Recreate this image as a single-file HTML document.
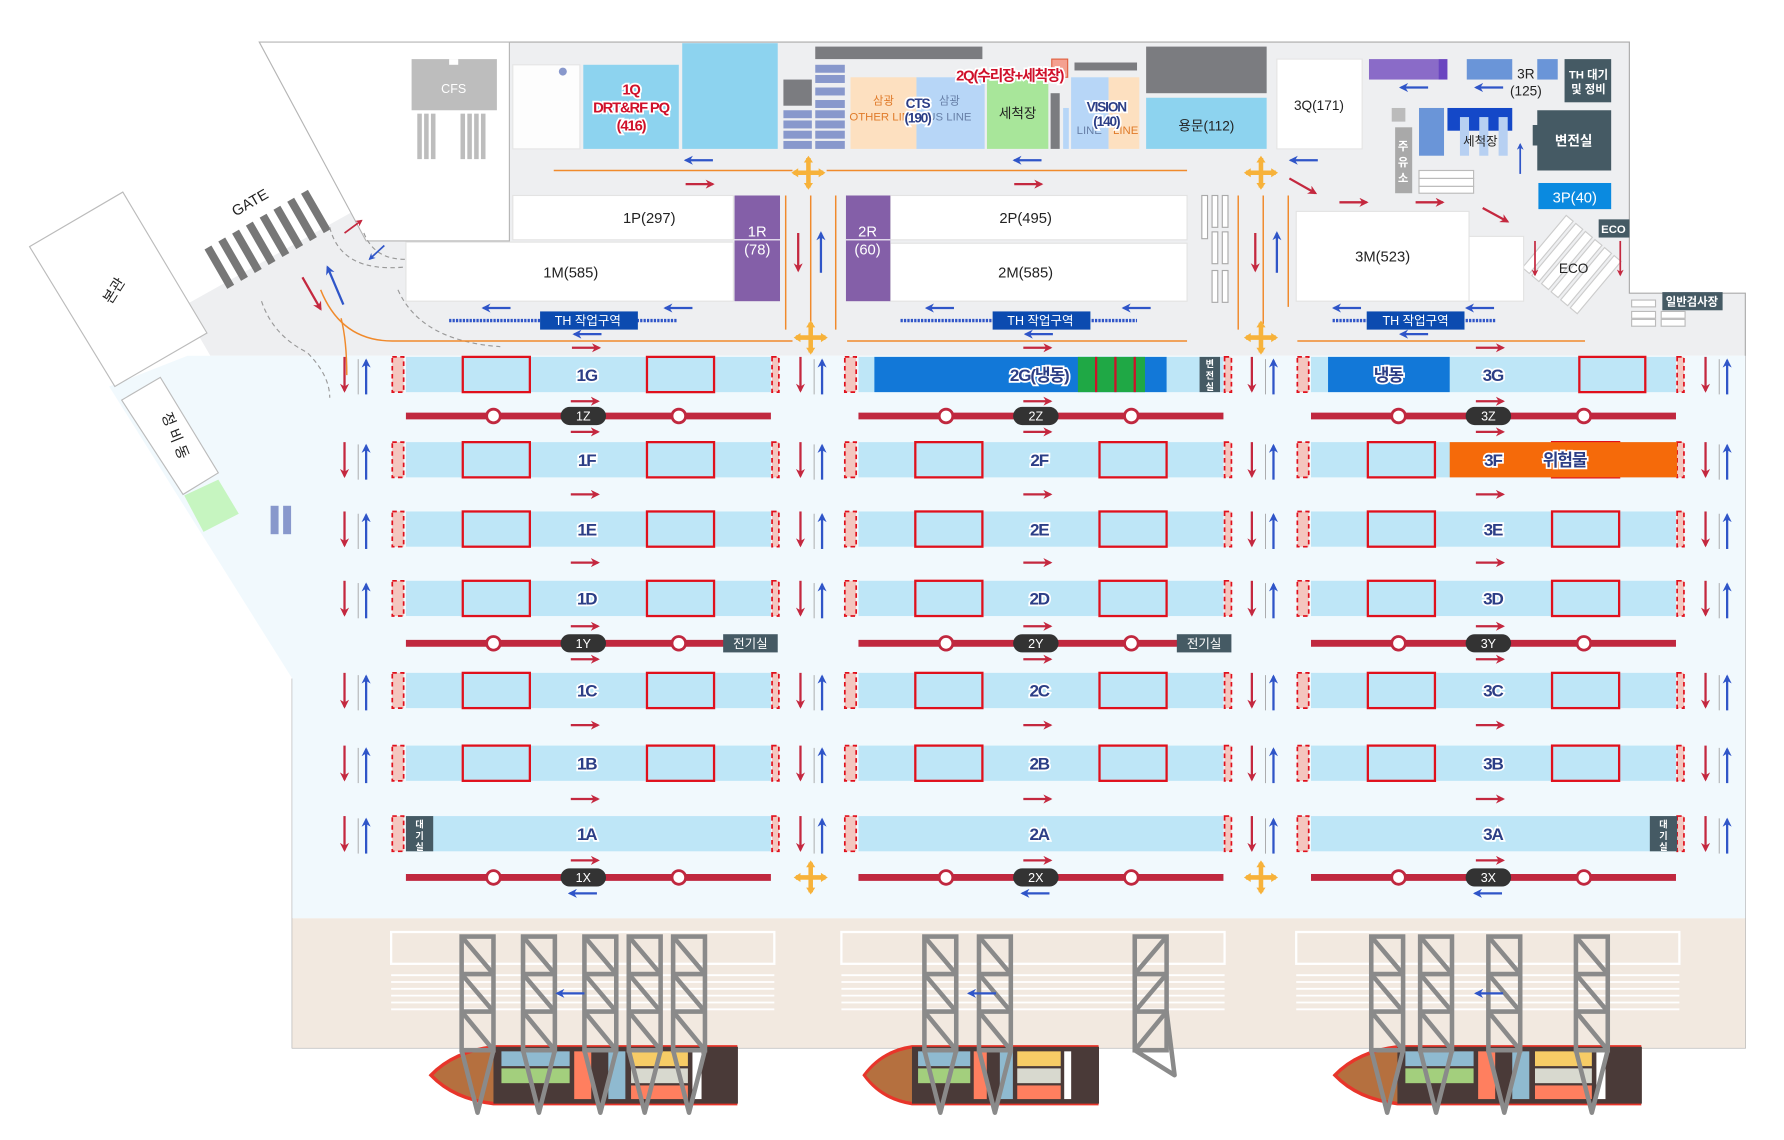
<!DOCTYPE html>
<html><head><meta charset="utf-8"><style>
html,body{margin:0;padding:0;background:#fff;}
svg{display:block;}
text{font-family:"Liberation Sans","Noto Sans CJK KR",sans-serif;}
.lb{font-size:15px;font-weight:bold;fill:#2c3e86;stroke:#fff;stroke-width:3px;paint-order:stroke;text-anchor:middle;letter-spacing:-1px;}
.t{font-size:13px;fill:#222;text-anchor:middle;}
.w{font-size:11px;fill:#fff;text-anchor:middle;font-weight:bold;}
</style></head><body>
<svg width="1784" height="1140" viewBox="0 0 1569 1003" preserveAspectRatio="none" xmlns="http://www.w3.org/2000/svg">
<defs>
<marker id="mr" viewBox="0 0 10 10" refX="8" refY="5" markerWidth="4" markerHeight="4" orient="auto"><path d="M0,0L10,5L0,10L3,5z" fill="#c4283f"/></marker>
<marker id="mb" viewBox="0 0 10 10" refX="8" refY="5" markerWidth="4" markerHeight="4" orient="auto"><path d="M0,0L10,5L0,10L3,5z" fill="#2f55c8"/></marker>
<g id="vp"><line x1="0" y1="0" x2="0" y2="30" stroke="#c4283f" stroke-width="2" marker-end="url(#mr)"/><line x1="19" y1="33" x2="19" y2="3" stroke="#2f55c8" stroke-width="2" marker-end="url(#mb)"/><line x1="12" y1="2" x2="12" y2="33" stroke="#999" stroke-width="0.7"/></g>
<g id="band"><rect x="0" y="0" width="321" height="31" fill="#bee6f7"/><rect x="-12" y="0" width="10" height="31" fill="#f4c6bf" stroke="#e0101c" stroke-width="1.5" stroke-dasharray="4,3"/><rect x="322" y="0" width="6" height="31" fill="#f4c6bf" stroke="#e0101c" stroke-width="1.5" stroke-dasharray="4,3"/></g>
<g id="rr"><rect x="50" y="0" width="59" height="31" fill="none" stroke="#e0101c" stroke-width="2"/><rect x="212" y="0" width="59" height="31" fill="none" stroke="#e0101c" stroke-width="2"/></g>
<g id="rail"><line x1="0" y1="0" x2="321" y2="0" stroke="#c0283f" stroke-width="6"/><circle cx="77" cy="0" r="6" fill="#fff" stroke="#c0283f" stroke-width="2.5"/><circle cx="240" cy="0" r="6" fill="#fff" stroke="#c0283f" stroke-width="2.5"/><rect x="136" y="-8" width="40" height="16" rx="8" fill="#333"/></g>
<g id="ra"><line x1="0" y1="0" x2="24" y2="0" stroke="#c4283f" stroke-width="2" marker-end="url(#mr)"/></g>
<g id="ba"><line x1="24" y1="0" x2="0" y2="0" stroke="#2f55c8" stroke-width="2" marker-end="url(#mb)"/></g>
<g id="cr"><rect x="0" y="0" width="28" height="100" fill="none" stroke="#8a8a8a" stroke-width="4"/><line x1="0" y1="33" x2="28" y2="33" stroke="#8a8a8a" stroke-width="4"/><line x1="0" y1="66" x2="28" y2="66" stroke="#8a8a8a" stroke-width="4"/><path d="M0,0L28,33M0,33L28,66M0,66L28,100M0,100L14,155L28,100" fill="none" stroke="#8a8a8a" stroke-width="4" stroke-linejoin="round"/></g>
<g id="xx"><path d="M0,-13L0,13M-13,0L13,0" stroke="#f7b23a" stroke-width="4"/><path d="M-4,-9L0,-15L4,-9zM-4,9L0,15L4,9zM-9,-4L-15,0L-9,4zM9,-4L15,0L9,4z" fill="#f7b23a"/></g>
<g id="ship"><path d="M0,25 Q20,4 55,0 L268,0 L268,50 L55,50 Q20,46 0,25z" fill="#b5703f" stroke="#e8352a" stroke-width="3"/><rect x="55" y="0" width="215" height="50" fill="#4a3a38"/><rect x="62" y="4" width="60" height="13" fill="#8fbad0"/><rect x="62" y="19" width="60" height="13" fill="#a3cf7d"/><rect x="126" y="4" width="15" height="42" fill="#ff7f5f"/><rect x="156" y="4" width="15" height="42" fill="#8fbad0"/><rect x="176" y="4" width="50" height="13" fill="#f7cc66"/><rect x="176" y="19" width="50" height="13" fill="#d8d9cf"/><rect x="176" y="34" width="50" height="12" fill="#ff7f5f"/><rect x="230" y="4" width="8" height="42" fill="#fff"/></g>
</defs>

<polygon points="448,37 1433,37 1433,258 1535,258 1535,313 185,313 160,270 316,183 322,212 448,212" fill="#eeeff1"/>
<polyline points="228,37 1433,37 1433,258 1535,258 1535,922 257,922 257,597" fill="none" stroke="#aaa" stroke-width="1"/>
<polygon points="165,313 1535,313 1535,808 257,808 257,597 96,340" fill="#f1f9fd"/>
<rect x="257" y="808" width="1278" height="114" fill="#f2e9e0"/>
<polygon points="228,37 448,37 448,212 322,212" fill="#fff" stroke="#b5b5b5" stroke-width="1"/>
<polygon points="26,217 108,169 182,293 101,340" fill="#fff" stroke="#bbb"/>
<text x="104" y="258" class="t" transform="rotate(-58 104 258)">본관</text>
<polygon points="107,352 141,332 192,416 161,435" fill="#fff" stroke="#bbb"/>
<text x="150" y="385" class="t" transform="rotate(68 150 385)">정 비 동</text>
<polygon points="162,436 192,422 210,452 179,468" fill="#c6f5c0"/>
<rect x="238" y="445" width="7" height="25" fill="#8898cc"/><rect x="249" y="445" width="7" height="25" fill="#8898cc"/>
<g fill="#777">
<g transform="rotate(-30 235 205)"><rect x="180" y="190" width="7" height="40"/><rect x="194" y="190" width="7" height="40"/><rect x="208" y="190" width="7" height="40"/><rect x="222" y="190" width="7" height="40"/><rect x="236" y="190" width="7" height="40"/><rect x="250" y="190" width="7" height="40"/><rect x="264" y="190" width="7" height="40"/><rect x="278" y="190" width="7" height="40"/></g></g>
<text x="222" y="182" class="t" transform="rotate(-30 222 182)">GATE</text>
<path d="M290,200 Q300,240 355,235" fill="none" stroke="#999" stroke-dasharray="4,3"/>
<path d="M320,205 Q330,230 360,228" fill="none" stroke="#999" stroke-dasharray="4,3"/>
<path d="M230,265 Q240,295 270,310 Q290,330 290,350" fill="none" stroke="#999" stroke-dasharray="4,3"/>
<path d="M350,255 Q370,300 440,305" fill="none" stroke="#999" stroke-dasharray="4,3"/>
<path d="M282,255 Q300,300 345,300 L697,300" fill="none" stroke="#f08a2c" stroke-width="1.3"/>
<path d="M300,280 Q305,300 305,330" fill="none" stroke="#f08a2c" stroke-width="1.3"/>
<line x1="303" y1="205" x2="318" y2="194" stroke="#c4283f" stroke-width="1.5" marker-end="url(#mr)"/>
<line x1="338" y1="216" x2="325" y2="228" stroke="#2f55c8" stroke-width="1.5" marker-end="url(#mb)"/>
<line x1="302" y1="268" x2="288" y2="235" stroke="#2f55c8" stroke-width="2" marker-end="url(#mb)"/>
<line x1="266" y1="244" x2="282" y2="272" stroke="#c4283f" stroke-width="2" marker-end="url(#mr)"/>

<rect x="362" y="52" width="75" height="45" fill="#bdbdbd"/><rect x="395" y="52" width="8" height="5" fill="#fff"/>
<text x="399" y="82" class="w" style="font-weight:normal">CFS</text>
<g fill="#bdbdbd"><rect x="367" y="100" width="4" height="40"/><rect x="373" y="100" width="4" height="40"/><rect x="379" y="100" width="4" height="40"/><rect x="405" y="100" width="4" height="40"/><rect x="411" y="100" width="4" height="40"/><rect x="417" y="100" width="4" height="40"/><rect x="423" y="100" width="4" height="40"/></g>

<rect x="451" y="57" width="59" height="74" fill="#fdfdfd" stroke="#e5e5e5"/><circle cx="495" cy="63" r="3.5" fill="#8898cc"/>
<rect x="513" y="57" width="84" height="74" fill="#8dd3ef"/>
<text x="555" y="83" class="lb" style="fill:#d0102a;font-size:13px">1Q</text>
<text x="555" y="99" class="lb" style="fill:#d0102a;font-size:13px">DRT&amp;RF PQ</text>
<text x="555" y="115" class="lb" style="fill:#d0102a;font-size:13px">(416)</text>
<rect x="600" y="38" width="84" height="93" fill="#8dd3ef"/>
<rect x="689" y="70" width="25" height="23" fill="#7b7c80"/>
<g fill="#8898cc"><rect x="689" y="97" width="25" height="7"/><rect x="689" y="106" width="25" height="7"/><rect x="689" y="115" width="25" height="7"/><rect x="689" y="124" width="25" height="7"/>
<rect x="717" y="57" width="26" height="7"/><rect x="717" y="66" width="26" height="7"/><rect x="717" y="77" width="26" height="7"/><rect x="717" y="88" width="26" height="7"/><rect x="717" y="97" width="26" height="7"/><rect x="717" y="106" width="26" height="7"/><rect x="717" y="115" width="26" height="7"/><rect x="717" y="124" width="26" height="7"/></g>
<rect x="717" y="41" width="147" height="11" fill="#7b7c80"/>
<rect x="748" y="68" width="58" height="63" fill="#fde0c0"/>
<text x="777" y="92" class="t" style="fill:#e07b2a;font-size:10px">삼광</text><text x="777" y="106" class="t" style="fill:#e07b2a;font-size:10px">OTHER LINE</text>
<rect x="806" y="68" width="60" height="63" fill="#b7d6f7"/>
<text x="835" y="92" class="t" style="fill:#6880a8;font-size:10px">삼광</text><text x="835" y="106" class="t" style="fill:#6880a8;font-size:10px">US LINE</text>
<text x="807" y="95" class="lb" style="font-size:12px">CTS</text><text x="807" y="108" class="lb" style="font-size:12px">(190)</text>
<rect x="868" y="68" width="54" height="63" fill="#a8e69a"/><text x="895" y="104" class="t" style="font-size:12px">세척장</text>
<rect x="924" y="82" width="8" height="49" fill="#7b7c80"/><rect x="935" y="95" width="5" height="36" fill="#b7d6f7"/>
<rect x="925" y="52" width="14" height="16" fill="#f4a090" stroke="#e06040"/>
<rect x="945" y="55" width="55" height="7" fill="#7b7c80"/>
<rect x="942" y="68" width="33" height="63" fill="#b7d6f7"/><rect x="975" y="68" width="27" height="63" fill="#fde0c0"/>
<text x="958" y="118" class="t" style="fill:#6880a8;font-size:10px">LINE</text><text x="990" y="118" class="t" style="fill:#e07b2a;font-size:10px">LINE</text>
<text x="973" y="98" class="lb" style="font-size:12px">VISION</text><text x="973" y="111" class="lb" style="font-size:12px">(140)</text>
<text x="888" y="71" class="lb" style="fill:#d0102a;font-size:13px">2Q(수리장+세척장)</text>
<rect x="1008" y="41" width="106" height="41" fill="#7b7c80"/>
<rect x="1008" y="86" width="106" height="45" fill="#8dd3ef"/><text x="1061" y="115" class="t" style="font-size:12px">용문(112)</text>
<rect x="1123" y="52" width="75" height="79" fill="#fff" stroke="#e5e5e5"/><text x="1160" y="97" class="t" style="font-size:12px">3Q(171)</text>
<rect x="1204" y="52" width="61" height="18" fill="#8a6bc8"/><rect x="1265" y="52" width="8" height="18" fill="#6a45c0"/>
<rect x="1290" y="52" width="40" height="18" fill="#6a95d8"/><rect x="1352" y="52" width="18" height="18" fill="#6a95d8"/>
<text x="1342" y="69" class="t" style="font-size:12px">3R</text><text x="1342" y="84" class="t" style="font-size:12px">(125)</text>
<rect x="1376" y="52" width="41" height="38" fill="#455a64"/><text x="1397" y="69" class="w" style="font-size:10px">TH 대기</text><text x="1397" y="82" class="w" style="font-size:10px">및 정비</text>
<use href="#ba" x="1232" y="77"/><use href="#ba" x="1298" y="77"/>
<rect x="1224" y="95" width="12" height="12" fill="#bbb"/>
<rect x="1227" y="112" width="15" height="58" fill="#a9a9a9"/>
<text x="1234" y="132" class="w" style="font-size:10px">주</text><text x="1234" y="146" class="w" style="font-size:10px">유</text><text x="1234" y="160" class="w" style="font-size:10px">소</text>
<rect x="1248" y="95" width="22" height="42" fill="#6a95d8"/>
<rect x="1273" y="95" width="57" height="20" fill="#1448c8"/>
<g fill="#b7d0f2"><rect x="1284" y="103" width="8" height="34"/><rect x="1301" y="103" width="8" height="34"/><rect x="1318" y="103" width="8" height="34"/></g>
<text x="1302" y="128" class="t" style="font-size:11px">세척장</text>
<g fill="#fff" stroke="#bbb"><rect x="1248" y="150" width="48" height="7"/><rect x="1248" y="157" width="48" height="7"/><rect x="1248" y="164" width="48" height="6"/></g>
<line x1="1337" y1="153" x2="1337" y2="127" stroke="#2f55c8" stroke-width="1.5" marker-end="url(#mb)"/>
<path d="M1352,97 L1417,97 L1417,150 L1352,150 L1352,128 L1348,128 L1348,110 L1352,110z" fill="#455a64"/><text x="1384" y="128" class="w" style="font-size:12px">변전실</text>
<rect x="1353" y="161" width="64" height="23" fill="#0a8ae0"/><text x="1385" y="178" class="w" style="font-size:13px;font-weight:normal">3P(40)</text>
<rect x="1406" y="193" width="27" height="16" fill="#455a64"/><text x="1419" y="205" class="w" style="font-size:10px">ECO</text>
<g fill="#fff" stroke="#ccc" transform="rotate(40 1385 235)"><rect x="1350" y="205" width="8" height="60"/><rect x="1361" y="205" width="8" height="60"/><rect x="1372" y="205" width="8" height="60"/><rect x="1383" y="205" width="8" height="60"/><rect x="1394" y="205" width="8" height="60"/><rect x="1405" y="205" width="8" height="60"/></g>
<text x="1384" y="240" class="t" style="font-size:12px">ECO</text>
<line x1="1350" y1="212" x2="1350" y2="242" stroke="#c4283f" stroke-width="1.5" marker-end="url(#mr)"/>
<line x1="1425" y1="212" x2="1425" y2="242" stroke="#c4283f" stroke-width="1.5" marker-end="url(#mr)"/>
<rect x="1462" y="257" width="53" height="16" fill="#455a64"/><text x="1488" y="269" class="w" style="font-size:10px">일반검사장</text>
<g fill="#fff" stroke="#bbb"><rect x="1435" y="264" width="21" height="6"/><rect x="1435" y="274" width="21" height="6"/><rect x="1435" y="281" width="21" height="6"/><rect x="1461" y="274" width="21" height="6"/><rect x="1461" y="281" width="21" height="6"/></g>

<use href="#ba" x="603" y="141"/><use href="#ra" x="603" y="162"/>
<use href="#ba" x="892" y="141"/><use href="#ra" x="892" y="162"/>
<use href="#ba" x="1135" y="141"/>
<line x1="1134" y1="157" x2="1157" y2="170" stroke="#c4283f" stroke-width="2" marker-end="url(#mr)"/>
<use href="#ra" x="1178" y="178"/><use href="#ra" x="1245" y="178"/>
<line x1="1304" y1="183" x2="1326" y2="195" stroke="#c4283f" stroke-width="2" marker-end="url(#mr)"/>
<g stroke="#f08a2c" stroke-width="1.3"><line x1="487" y1="150" x2="697" y2="150"/><line x1="727" y1="150" x2="1044" y2="150"/>
<line x1="745" y1="300" x2="1044" y2="300"/><line x1="1141" y1="300" x2="1394" y2="300"/>
<line x1="691" y1="172" x2="691" y2="290"/><line x1="713" y1="172" x2="713" y2="285"/><line x1="735" y1="172" x2="735" y2="290"/>
<line x1="1089" y1="172" x2="1089" y2="290"/><line x1="1111" y1="172" x2="1111" y2="285"/><line x1="1133" y1="172" x2="1133" y2="270"/></g>
<use href="#xx" x="711" y="152"/><use href="#xx" x="1109" y="152"/><use href="#xx" x="713" y="297"/><use href="#xx" x="1109" y="297"/>
<use href="#xx" x="713" y="772"/><use href="#xx" x="1109" y="772"/>
<line x1="702" y1="205" x2="702" y2="238" stroke="#c4283f" stroke-width="2" marker-end="url(#mr)"/>
<line x1="722" y1="240" x2="722" y2="205" stroke="#2f55c8" stroke-width="2" marker-end="url(#mb)"/>
<line x1="1104" y1="205" x2="1104" y2="238" stroke="#c4283f" stroke-width="2" marker-end="url(#mr)"/>
<line x1="1123" y1="240" x2="1123" y2="205" stroke="#2f55c8" stroke-width="2" marker-end="url(#mb)"/>

<g fill="#fff" stroke="#e3e3e3">
<rect x="451" y="172" width="194" height="39"/><rect x="357" y="213" width="288" height="52"/>
<rect x="783" y="172" width="261" height="39"/><rect x="783" y="214" width="261" height="51"/>
<rect x="1140" y="186" width="152" height="79"/><rect x="1292" y="208" width="48" height="57"/>
</g>
<g fill="#fff" stroke="#aaa"><rect x="1057" y="172" width="5" height="38"/><rect x="1066" y="172" width="5" height="28"/><rect x="1075" y="172" width="5" height="28"/><rect x="1066" y="204" width="5" height="28"/><rect x="1075" y="204" width="5" height="28"/><rect x="1066" y="238" width="5" height="28"/><rect x="1075" y="238" width="5" height="28"/></g>
<text x="571" y="196" class="t">1P(297)</text><text x="502" y="244" class="t">1M(585)</text>
<text x="902" y="196" class="t">2P(495)</text><text x="902" y="244" class="t">2M(585)</text>
<text x="1216" y="230" class="t">3M(523)</text>
<rect x="646" y="172" width="40" height="93" fill="#845fa8"/><line x1="646" y1="211" x2="686" y2="211" stroke="#fff"/>
<rect x="744" y="172" width="39" height="93" fill="#845fa8"/><line x1="744" y1="211" x2="783" y2="211" stroke="#fff"/>
<text x="666" y="208" class="w" style="font-weight:normal;font-size:13px">1R</text><text x="666" y="224" class="w" style="font-weight:normal;font-size:13px">(78)</text>
<text x="763" y="208" class="w" style="font-weight:normal;font-size:13px">2R</text><text x="763" y="224" class="w" style="font-weight:normal;font-size:13px">(60)</text>

<g stroke="#2f55c8" stroke-width="3" stroke-dasharray="2,1"><line x1="395" y1="282" x2="595" y2="282"/><line x1="792" y1="282" x2="1000" y2="282"/><line x1="1172" y1="282" x2="1315" y2="282"/></g>
<rect x="475" y="274" width="86" height="16" fill="#0c4bb0"/><text x="517" y="286" class="w" style="font-weight:normal">TH 작업구역</text>
<rect x="873" y="274" width="86" height="16" fill="#0c4bb0"/><text x="915" y="286" class="w" style="font-weight:normal">TH 작업구역</text>
<rect x="1202" y="274" width="86" height="16" fill="#0c4bb0"/><text x="1245" y="286" class="w" style="font-weight:normal">TH 작업구역</text>
<use href="#ba" x="425" y="271"/><use href="#ba" x="585" y="271"/><use href="#ba" x="815" y="271"/><use href="#ba" x="988" y="271"/><use href="#ba" x="1173" y="271"/><use href="#ba" x="1290" y="271"/>
<use href="#ba" x="505" y="294"/><use href="#ba" x="902" y="294"/><use href="#ba" x="1232" y="294"/>
<use href="#ra" x="503" y="306"/><use href="#ra" x="900" y="306"/><use href="#ra" x="1298" y="306"/>

<g id="b1">
<use href="#band" x="357" y="314"/><use href="#band" x="357" y="389"/><use href="#band" x="357" y="450"/><use href="#band" x="357" y="511"/><use href="#band" x="357" y="592"/><use href="#band" x="357" y="656"/><use href="#band" x="357" y="718"/>
<use href="#rr" x="357" y="389"/><use href="#rr" x="357" y="450"/><use href="#rr" x="357" y="511"/><use href="#rr" x="357" y="592"/><use href="#rr" x="357" y="656"/>
</g>
<use href="#b1" x="398"/><use href="#b1" x="796"/>
<use href="#rr" x="357" y="314"/>
<rect x="769" y="314" width="257" height="31" fill="#1278d8"/>
<rect x="948" y="314" width="59" height="31" fill="#1fa845"/>
<g stroke="#d0102a" stroke-width="2"><line x1="964" y1="314" x2="964" y2="345"/><line x1="981" y1="314" x2="981" y2="345"/><line x1="998" y1="314" x2="998" y2="345"/></g>
<rect x="1055" y="314" width="18" height="31" fill="#455a64"/>
<text x="1064" y="323" class="w" style="font-size:8px">변</text><text x="1064" y="333" class="w" style="font-size:8px">전</text><text x="1064" y="343" class="w" style="font-size:8px">실</text>
<rect x="1168" y="314" width="107" height="31" fill="#1278d8"/>
<rect x="1389" y="314" width="58" height="31" fill="none" stroke="#e0101c" stroke-width="2"/>
<rect x="1275" y="389" width="200" height="31" fill="#f56a0a"/>
<rect x="357" y="718" width="24" height="31" fill="#455a64"/>
<text x="369" y="728" class="w" style="font-size:8px">대</text><text x="369" y="738" class="w" style="font-size:8px">기</text><text x="369" y="748" class="w" style="font-size:8px">실</text>
<rect x="1451" y="718" width="24" height="31" fill="#455a64"/>
<text x="1463" y="728" class="w" style="font-size:8px">대</text><text x="1463" y="738" class="w" style="font-size:8px">기</text><text x="1463" y="748" class="w" style="font-size:8px">실</text>

<g>
<text x="516" y="335" class="lb">1G</text><text x="516" y="410" class="lb">1F</text><text x="516" y="471" class="lb">1E</text><text x="516" y="532" class="lb">1D</text><text x="516" y="613" class="lb">1C</text><text x="516" y="677" class="lb">1B</text><text x="516" y="739" class="lb">1A</text>
<text x="914" y="335" class="lb">2G(냉동)</text><text x="914" y="410" class="lb">2F</text><text x="914" y="471" class="lb">2E</text><text x="914" y="532" class="lb">2D</text><text x="914" y="613" class="lb">2C</text><text x="914" y="677" class="lb">2B</text><text x="914" y="739" class="lb">2A</text>
<text x="1221" y="335" class="lb">냉동</text><text x="1313" y="335" class="lb">3G</text><text x="1313" y="410" class="lb">3F</text><text x="1376" y="410" class="lb">위험물</text><text x="1313" y="471" class="lb">3E</text><text x="1313" y="532" class="lb">3D</text><text x="1313" y="613" class="lb">3C</text><text x="1313" y="677" class="lb">3B</text><text x="1313" y="739" class="lb">3A</text>
</g>

<g id="vc">
<use href="#vp" x="303" y="314"/><use href="#vp" x="303" y="389"/><use href="#vp" x="303" y="450"/><use href="#vp" x="303" y="511"/><use href="#vp" x="303" y="592"/><use href="#vp" x="303" y="656"/><use href="#vp" x="303" y="718"/>
</g>
<use href="#vc" x="401"/><use href="#vc" x="798"/><use href="#vc" x="1197"/>

<g id="rails"><use href="#rail" x="357" y="366"/><use href="#rail" x="357" y="566"/><use href="#rail" x="357" y="772"/></g>
<use href="#rails" x="398"/><use href="#rails" x="796"/>
<g>
<text x="513" y="370" class="w" style="font-weight:normal">1Z</text><text x="513" y="570" class="w" style="font-weight:normal">1Y</text><text x="513" y="776" class="w" style="font-weight:normal">1X</text>
<text x="911" y="370" class="w" style="font-weight:normal">2Z</text><text x="911" y="570" class="w" style="font-weight:normal">2Y</text><text x="911" y="776" class="w" style="font-weight:normal">2X</text>
<text x="1309" y="370" class="w" style="font-weight:normal">3Z</text><text x="1309" y="570" class="w" style="font-weight:normal">3Y</text><text x="1309" y="776" class="w" style="font-weight:normal">3X</text>
</g>
<rect x="636" y="558" width="48" height="16" fill="#455a64"/><text x="660" y="570" class="w" style="font-weight:normal">전기실</text>
<rect x="1035" y="558" width="48" height="16" fill="#455a64"/><text x="1059" y="570" class="w" style="font-weight:normal">전기실</text>

<g id="ar">
<use href="#ra" x="502" y="353"/><use href="#ra" x="502" y="380"/><use href="#ra" x="502" y="435"/><use href="#ra" x="502" y="495"/><use href="#ra" x="502" y="551"/><use href="#ra" x="502" y="580"/><use href="#ra" x="502" y="638"/><use href="#ra" x="502" y="703"/><use href="#ra" x="502" y="757"/><use href="#ba" x="501" y="786"/>
</g>
<use href="#ar" x="398"/><use href="#ar" x="796"/>

<g id="qy"><rect x="344" y="820" width="337" height="28" fill="none" stroke="#fff" stroke-width="2"/>
<g stroke="#fff" stroke-width="1.6"><line x1="344" y1="858" x2="681" y2="858"/><line x1="344" y1="864" x2="681" y2="864"/><line x1="344" y1="870" x2="681" y2="870"/><line x1="344" y1="876" x2="681" y2="876"/><line x1="344" y1="882" x2="681" y2="882"/><line x1="344" y1="888" x2="681" y2="888"/></g></g>
<use href="#qy" x="396"/><use href="#qy" x="796"/>
<use href="#ship" x="379" y="921"/>
<use href="#ship" transform="translate(760 921) scale(0.765 1)"/>
<use href="#ship" x="1174" y="921"/>
<use href="#cr" x="406" y="824"/><use href="#cr" x="460" y="824"/><use href="#cr" x="514" y="824"/><use href="#cr" x="553" y="824"/><use href="#cr" x="592" y="824"/>
<use href="#cr" x="813" y="824"/><use href="#cr" x="861" y="824"/>
<g transform="translate(998 824)"><rect x="0" y="0" width="28" height="100" fill="none" stroke="#8a8a8a" stroke-width="4"/><path d="M0,33L28,33M0,66L28,66M28,0L0,33M28,33L0,66M28,66L0,100M0,100L35,122L28,66" fill="none" stroke="#8a8a8a" stroke-width="4" stroke-linejoin="round"/></g>
<use href="#cr" x="1206" y="824"/><use href="#cr" x="1249" y="824"/><use href="#cr" x="1309" y="824"/><use href="#cr" x="1386" y="824"/>
<use href="#ba" x="490" y="874"/><use href="#ba" x="852" y="874"/><use href="#ba" x="1298" y="874"/>
</svg>
</body></html>
